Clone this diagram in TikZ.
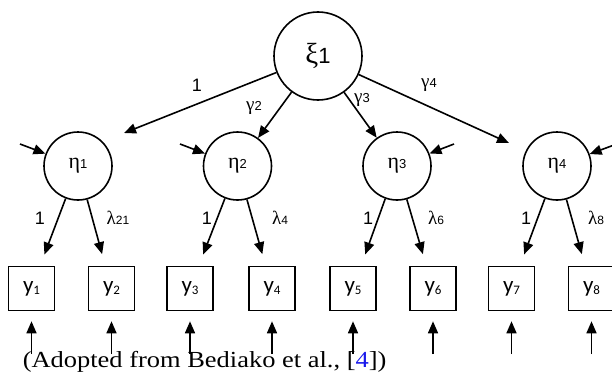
\documentclass[tikz,border=0pt]{standalone}
\usepackage{fontspec}
\setmainfont{Liberation Sans}
\newfontfamily\grk{Liberation Serif}
\newfontfamily\capfont[FakeStretch=1.15]{Liberation Serif}
\newfontfamily\boxfont{Carlito}
\usetikzlibrary{arrows.meta}
\definecolor{citeblue}{RGB}{25,25,235}
% Greek symbol with a small index on the baseline
\newcommand\gsym[4]{{\grk\fontsize{#2}{#2}\selectfont #1}{\fontsize{#4}{#4}\selectfont #3}}
% observed variable label
\newcommand\obsv[1]{{\boxfont\fontsize{23}{23}\selectfont y}\raisebox{-2pt}{\boxfont\fontsize{13}{13}\selectfont #1}}
\begin{document}
\begin{tikzpicture}[x=1pt,y=-1pt,line width=1.6pt,
  tip/.style={-{Triangle[length=12pt,width=10pt]}},
  factor/.style={circle,draw,minimum size=88pt,inner sep=0pt},
  latent/.style={circle,draw,minimum size=68pt,inner sep=0pt},
  indicator/.style={rectangle,draw,minimum width=46pt,minimum height=44pt,inner sep=0pt},
  num/.style={font=\fontsize{18}{18}\selectfont,inner sep=0pt}]
\useasboundingbox (0,0) rectangle (612,372);
\clip (0,0) rectangle (612,372);

% second-order factor
\node[factor] (xi) at (318,56) {\gsym{ξ}{29}{1}{22}};

% first-order factors
\node[latent] (eta1) at (78,166)  {\gsym{η}{22}{1}{13}};
\node[latent] (eta2) at (237.5,166) {\gsym{η}{22}{2}{13}};
\node[latent] (eta3) at (397,166) {\gsym{η}{22}{3}{13}};
\node[latent] (eta4) at (557,166) {\gsym{η}{22}{4}{13}};

% indicators
\node[indicator] (y1) at (31.5,288.5) {\obsv{1}};
\node[indicator] (y2) at (111.5,288.5) {\obsv{2}};
\node[indicator] (y3) at (190,288.5) {\obsv{3}};
\node[indicator] (y4) at (272,288.5) {\obsv{4}};
\node[indicator] (y5) at (353,288.5) {\obsv{5}};
\node[indicator] (y6) at (433,288.5) {\obsv{6}};
\node[indicator] (y7) at (511.5,288.5) {\obsv{7}};
\node[indicator] (y8) at (591.5,288.5) {\obsv{8}};

% free ends
\coordinate (t1) at (124,133);
\coordinate (t4) at (509,143);
\coordinate (d1) at (20,144);
\coordinate (d2) at (180,144);
\coordinate (d3) at (454,144);
\coordinate (d4) at (625,141);
\foreach \i/\x in {1/31.5,2/111.5,3/190,4/272,5/353,6/433,7/511.5,8/591.5}
  \coordinate (e\i) at (\x,354);

% structural paths
\draw[tip] (xi) -- (t1);
\draw[tip] (xi) -- (eta2);
\draw[tip] (xi) -- (eta3);
\draw[tip] (xi) -- (t4);
\node[num] (p1) at (197,85) {1};
\node[inner sep=0pt] (p2) at (254,108) {\gsym{γ}{19}{2}{13}};
\node[inner sep=0pt] (p3) at (362,100) {\gsym{γ}{19}{3}{13}};
\node[inner sep=0pt] (p4) at (429,85) {\gsym{γ}{19}{4}{13}};

% disturbances
\foreach \i in {1,...,4} \draw[tip] (d\i) -- (eta\i);

% loadings
\draw[tip,shorten >=12pt] (eta1) -- (y1);
\draw[tip,shorten >=12pt] (eta1) -- (y2);
\draw[tip,shorten >=12pt] (eta2) -- (y3);
\draw[tip,shorten >=12pt] (eta2) -- (y4);
\draw[tip,shorten >=12pt] (eta3) -- (y5);
\draw[tip,shorten >=12pt] (eta3) -- (y6);
\draw[tip,shorten >=12pt] (eta4) -- (y7);
\draw[tip,shorten >=12pt] (eta4) -- (y8);
\node[num] (l1) at (40,218) {1};
\node[num] (l3) at (207,218) {1};
\node[num] (l5) at (368,218) {1};
\node[num] (l7) at (526,218) {1};
\node[inner sep=0pt] (l2) at (118,218) {\gsym{λ}{19}{21}{12}};
\node[inner sep=0pt] (l4) at (280,218) {\gsym{λ}{19}{4}{12}};
\node[inner sep=0pt] (l6) at (436,218) {\gsym{λ}{19}{6}{12}};
\node[inner sep=0pt] (l8) at (596,218) {\gsym{λ}{19}{8}{12}};

% measurement errors
\foreach \i in {1,...,8} \draw[tip,shorten >=10pt] (e\i) -- (y\i);

% source note
\node[anchor=base west,inner sep=0pt,font=\capfont\fontsize{23}{23}\selectfont] (src) at (22,367)
  {(Adopted from Bediako et al., [\textcolor{citeblue}{4}])};
\end{tikzpicture}
\end{document}
